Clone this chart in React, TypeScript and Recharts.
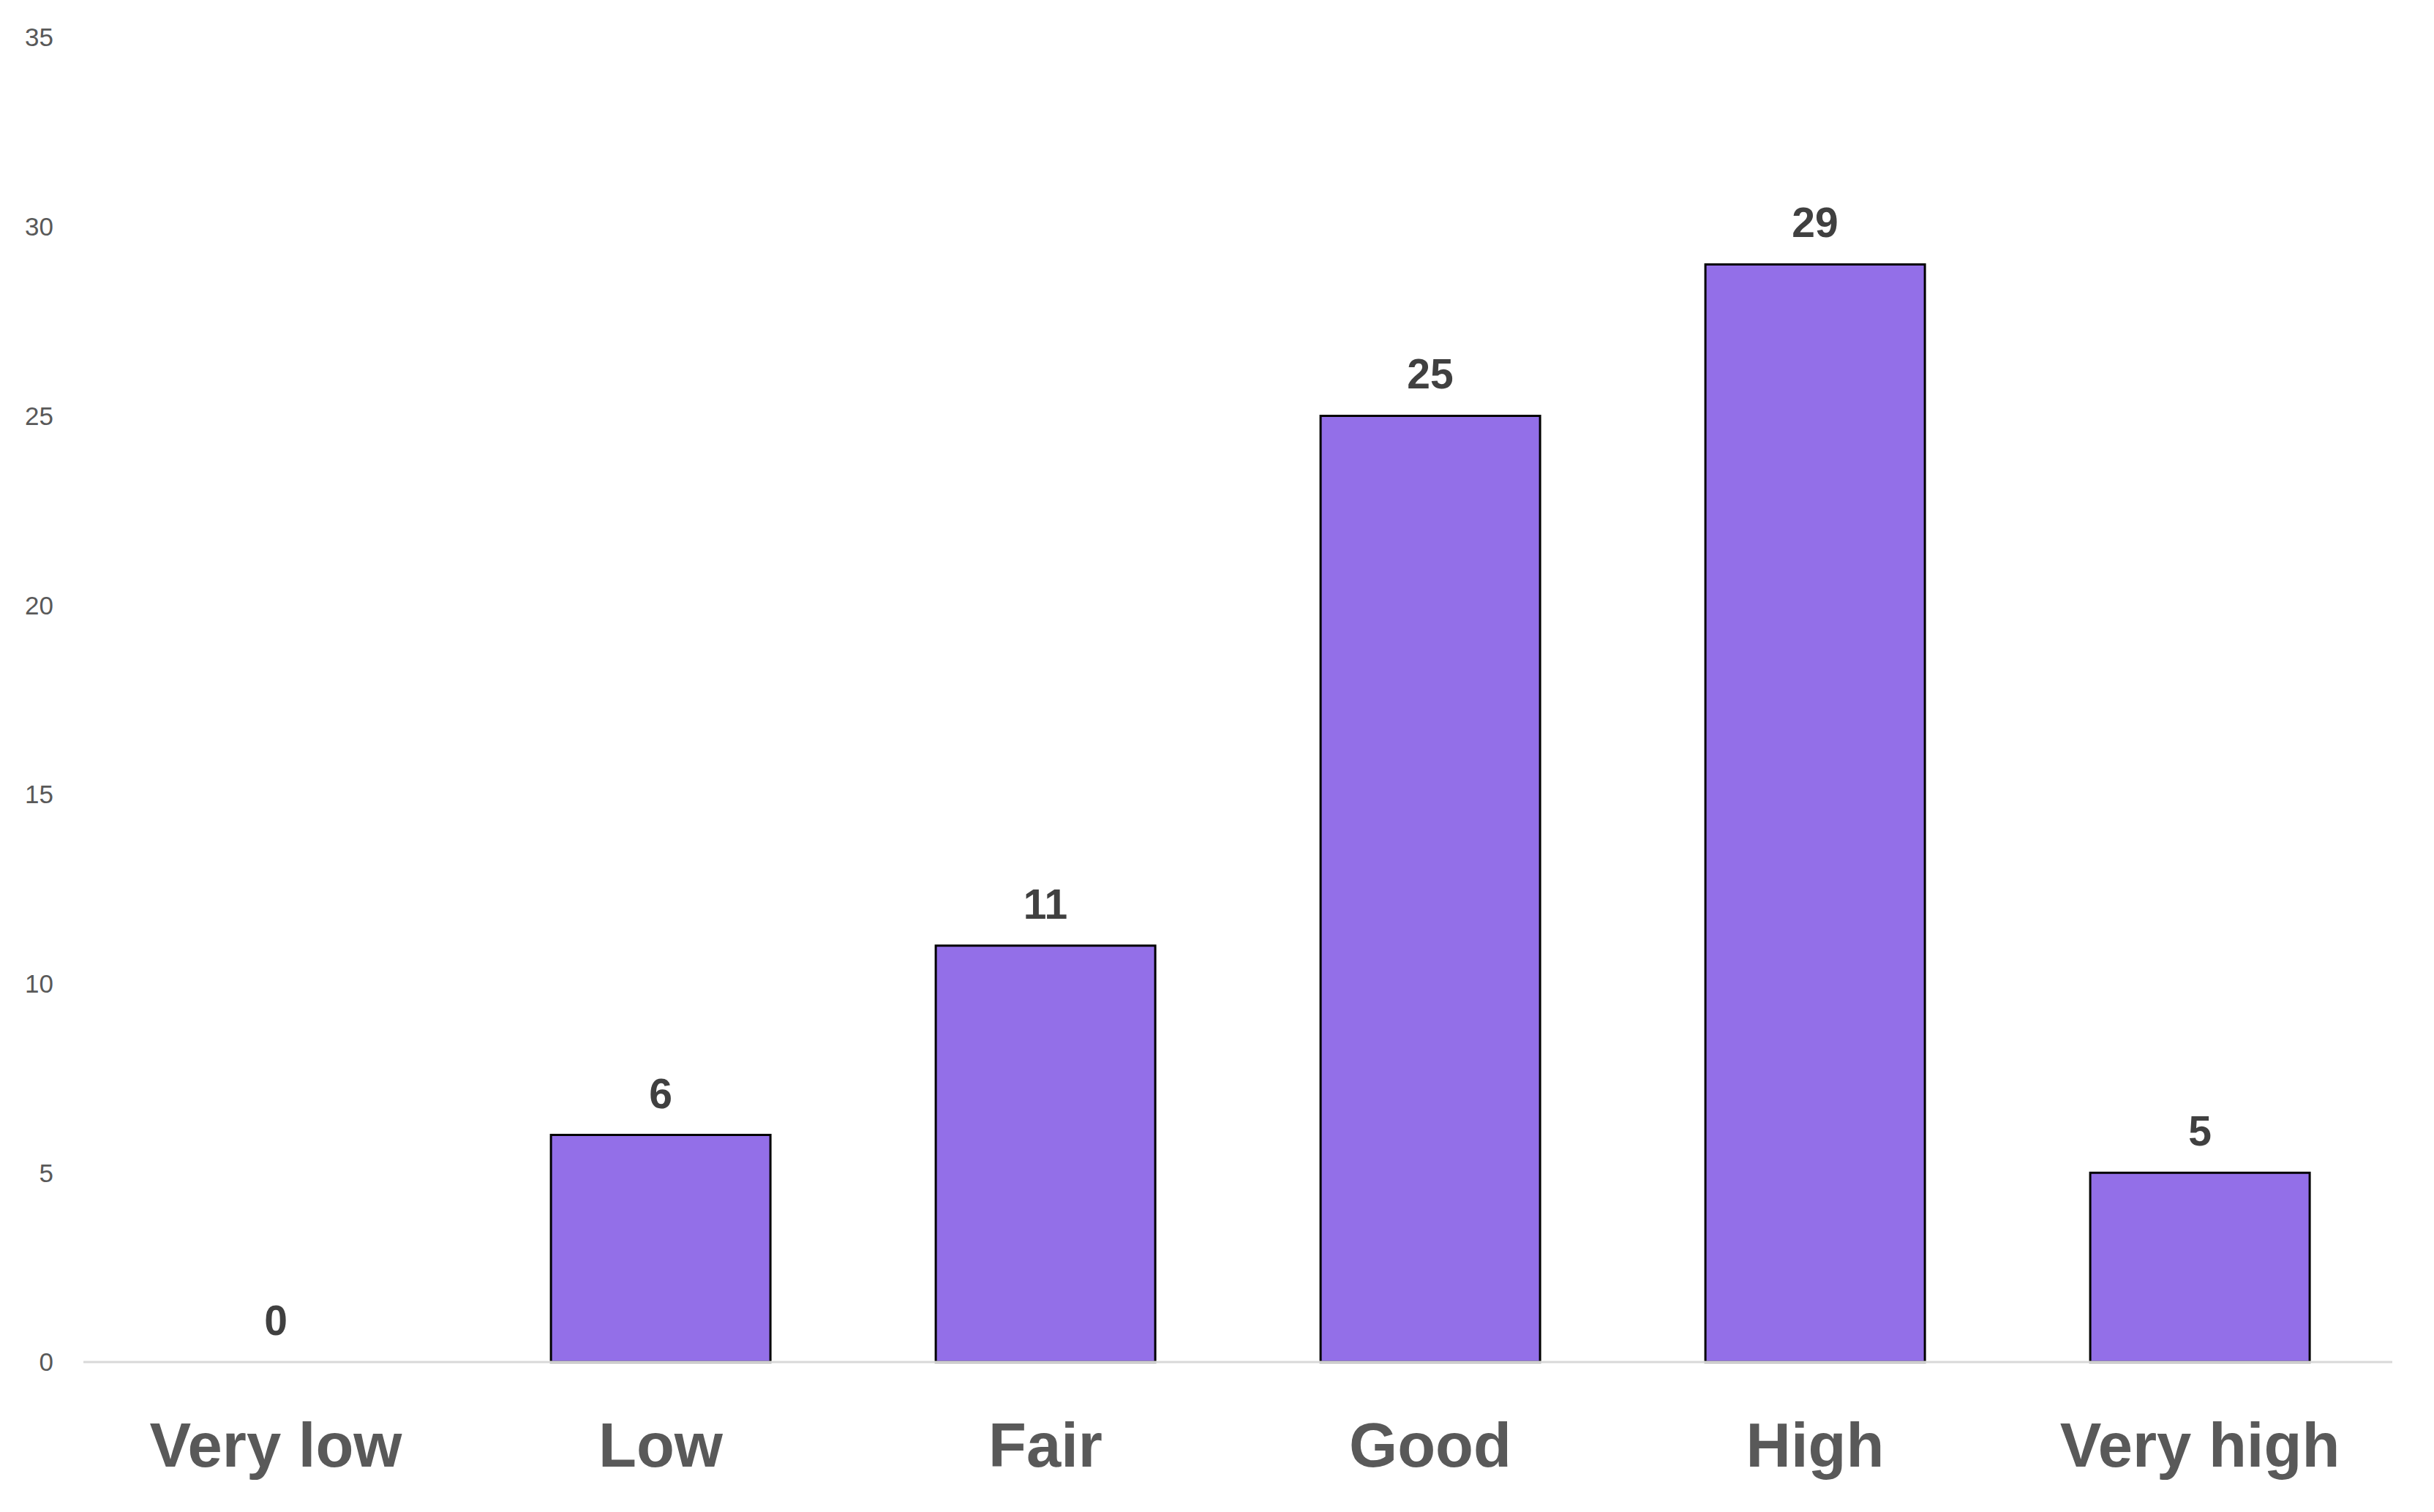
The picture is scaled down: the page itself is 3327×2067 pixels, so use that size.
import React from 'react';
import { ComposedChart, Bar, Line, XAxis, YAxis, LabelList } from 'recharts';

const categories = ['Very low', 'Low', 'Fair', 'Good', 'High', 'Very high'];
const counts = [0, 6, 11, 25, 29, 5];
const yTicks = [0, 5, 10, 15, 20, 25, 30, 35];

const data = categories.map((name, i) => ({ name, value: counts[i] }));

const FONT = 'Liberation Sans, Arial, sans-serif';

export default function App() {
  return (
    <div style={{ position: 'absolute', left: 0, top: 0, background: '#fff' }}>
      <ComposedChart
        width={3327}
        height={2067}
        data={data}
        margin={{ top: 51, right: 57, bottom: 0, left: 0 }}
        barCategoryGap="21.5%"
      >
        <XAxis
          dataKey="name"
          height={205}
          tickSize={0}
          tickMargin={83}
          axisLine={{ stroke: '#d9d9d9', strokeWidth: 3 }}
          tickLine={false}
          tick={{ fill: '#595959', fontSize: 85, fontWeight: 700, fontFamily: FONT }}
        />
        <YAxis
          width={114}
          domain={[0, 35]}
          ticks={yTicks}
          axisLine={false}
          tickLine={false}
          tickSize={0}
          tickMargin={41}
          tick={{ fill: '#595959', fontSize: 35, fontFamily: FONT }}
        />
        <Bar dataKey="value" fill="#936FE8" stroke="#000" strokeWidth={3} isAnimationActive={false} />
        <Line
          dataKey="value"
          stroke="none"
          dot={false}
          activeDot={false}
          legendType="none"
          isAnimationActive={false}
        >
          <LabelList
            dataKey="value"
            position="top"
            offset={37}
            fill="#404040"
            fontSize={57}
            fontWeight={700}
            fontFamily={FONT}
          />
        </Line>
      </ComposedChart>
    </div>
  );
}
